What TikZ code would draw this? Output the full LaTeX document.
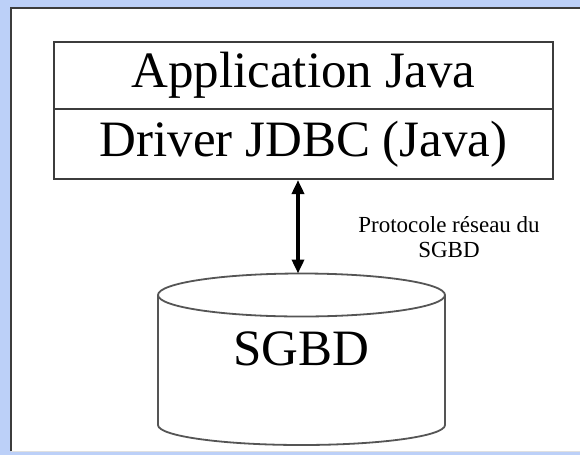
\documentclass[tikz,border=0pt]{standalone}
\usepackage{fontspec}
\setmainfont{Liberation Serif}
\usetikzlibrary{arrows.meta}
\definecolor{bgblue}{RGB}{188,208,248}
\definecolor{edgegray}{RGB}{60,60,60}
\definecolor{dbgray}{RGB}{85,85,85}
\begin{document}
\begin{tikzpicture}[x=1pt,y=-1pt,
  layer/.style={draw=edgegray, line width=2pt, minimum width=499pt, inner sep=0pt, font=\fontsize{51}{56}\selectfont},
  dbline/.style={draw=dbgray, line width=1.8pt},
  link/.style={line width=3.5pt, {Triangle[length=14pt,width=12pt]}-{Triangle[length=14pt,width=12pt]}},
  note/.style={font=\fontsize{23}{25}\selectfont, align=center},
  big/.style={font=\fontsize{51}{56}\selectfont}]
\useasboundingbox (0,0) rectangle (580,455);
\fill[bgblue] (0,0) rectangle (580,455);
\fill[white] (11,8) rectangle (585,451);
\draw[edgegray, line width=1.5pt] (11,451) -- (11,8) -- (585,8);
\draw[black!12, line width=1pt] (11,451) -- (585,451);
\node[layer, minimum height=67pt] (app) at (303.5,75.5) {Application Java};
\node[layer, minimum height=70pt] (drv) at (303.5,144) {Driver JDBC (Java)};
\draw[dbline] (158,295) -- (158,425) arc[start angle=180, end angle=360, x radius=143.5pt, y radius=20pt] -- (445,295);
\draw[dbline] (301.5,295) ellipse [x radius=143.5pt, y radius=21.5pt];
\coordinate (dbtop) at (298,273.5);
\node[big] (sgbd) at (301.5,349) {SGBD};
\draw[link] (drv.south -| dbtop) -- (dbtop);
\node[note] (proto) at (449,237) {Protocole réseau du\\SGBD};
\end{tikzpicture}
\end{document}
